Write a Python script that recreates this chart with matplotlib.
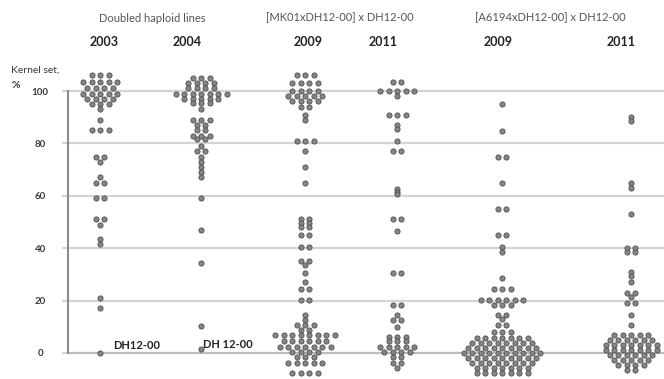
"""
Kernel set (%) of doubled haploid lines and crosses, shown as dot columns
"""

import numpy as np
import matplotlib
matplotlib.use('Agg')
import matplotlib.pyplot as plt

plt.rcParams['font.family'] = ['Lato', 'DejaVu Sans']

### values: kernel set levels and number of lines at each ###

dh2003_levels = [106, 103.5, 101, 99, 97, 95, 93, 89, 85, 75, 73, 67, 65, 59, 51, 49,
                 43.5, 41.5, 21, 17, 0]
dh2003_counts = [3, 5, 4, 5, 4, 3, 1, 1, 3, 2, 1, 1, 2, 2, 2, 1, 1, 1, 1, 1, 1]

dh2004_levels = [105, 103, 101, 99, 97, 95.5, 93, 89, 87, 85, 83, 81.5, 79, 77, 75, 73,
                 71, 69, 67, 59, 47, 34.5, 10.3, 1.5]
dh2004_counts = [3, 4, 4, 7, 5, 3, 1, 3, 2, 2, 3, 2, 1, 2, 1, 1, 1, 1, 1, 1, 1, 1, 1, 1]

mk2009_levels = [106, 103, 100, 98, 96, 94, 91, 89, 81, 77, 71, 65, 51, 49.5, 48, 45,
                 40.5, 35, 33.5, 30.5, 27, 24.5, 20.3, 14.5, 12.6, 10.7, 8.8, 6.9, 4.6,
                 2.3, 0.4, -1.5, -3.8, -7.6]
mk2009_counts = [3, 4, 4, 5, 4, 2, 1, 1, 3, 1, 1, 1, 2, 2, 2, 2, 2, 2, 1, 1, 1, 2, 2, 1,
                 1, 3, 2, 8, 6, 7, 4, 3, 5, 4]

mk2011_levels = [103.5, 100, 98, 91, 87, 85.5, 81, 77, 62.5, 61.5, 60.5, 51, 46.5, 30.5,
                 18.5, 14.5, 12.6, 10, 6, 4.4, 2.3, 0.4, -1.5, -3.8, -5.7]
mk2011_counts = [2, 5, 1, 3, 1, 1, 1, 2, 1, 1, 1, 2, 1, 2, 2, 1, 2, 1, 3, 3, 5, 4, 2, 2, 1]

a6194_2009_levels = [95, 84.7, 75, 64.7, 55, 45, 40.6, 38.7, 28.7, 24.5, 20.3, 18.4, 14.5,
                     12.8, 10.7, 8, 5.7, 3.8, 1.9, 0, -1.9, -3.8, -5.7, -7.6]
a6194_2009_counts = [1, 1, 2, 1, 2, 2, 1, 1, 1, 3, 6, 3, 2, 1, 2, 3, 7, 8, 9, 10, 9, 8, 7, 7]

a6194_2011_levels = [90, 88.5, 65, 63, 53, 40, 38.5, 31, 29.5, 27, 23, 21.5, 19.2, 14.5,
                     10.7, 6.9, 5, 3, 1.1, -0.8, -2.7, -4.6, -6.5]
a6194_2011_counts = [1, 1, 1, 1, 1, 2, 2, 1, 1, 1, 2, 1, 2, 1, 1, 5, 6, 7, 7, 6, 5, 4, 2]

years = ['2003', '2004', '2009', '2011', '2009', '2011']
groups = ['Doubled haploid lines', '[MK01xDH12-00] x DH12-00', '[A6194xDH12-00] x DH12-00']
yticks = [0, 20, 40, 60, 80, 100]
check_label = ['DH12-00', 'DH 12-00']

columns = [(dh2003_levels, dh2003_counts),
           (dh2004_levels, dh2004_counts),
           (mk2009_levels, mk2009_counts),
           (mk2011_levels, mk2011_counts),
           (a6194_2009_levels, a6194_2009_counts),
           (a6194_2011_levels, a6194_2011_counts)]

# layout (pixels of the 664x379 picture)
W, H = 664, 379
centres = [100, 201, 305, 397, 502, 631]
year_x = [104, 187, 308, 383, 498, 621]
group_x = [152, 340, 550]
STEP = 8.5                      # horizontal gap between dots in a row
Y0_PX, PX_PER_UNIT = 353, 2.62  # pixel row of 0 % and scale


def dot_row(levels, counts, centre, step=STEP):
    """
    Spread the lines sharing one level symmetrically around the column centre
    """
    xs, ys = [], []
    for v, n in zip(levels, counts):
        offs = (np.arange(n) - (n - 1) / 2.0) * step
        xs.extend(centre + offs)
        ys.extend([v] * n)
    return np.array(xs), np.array(ys)


def ftext(x, y, s, **kw):
    fig.text(x / W, 1 - y / H, s, **kw)


fig = plt.figure(figsize=(W / 100, H / 100), dpi=100)
left = 68
ax = fig.add_axes([left / W, 0, 1 - left / W, 1])
ax.set_xlim(left, W)
ax.set_ylim((Y0_PX - H) / PX_PER_UNIT, Y0_PX / PX_PER_UNIT)

# grid and axis
for v in yticks:
    ax.axhline(v, color='#bcbcbc' if v == 0 else '#d4d4d4', lw=1.6, zorder=1)
for s in ['top', 'right', 'bottom']:
    ax.spines[s].set_visible(False)
ax.spines['left'].set_bounds(0, 100)
ax.spines['left'].set_color('#8c8c8c')
ax.spines['left'].set_linewidth(1.5)
ax.set_xticks([])
ax.set_yticks(yticks)
ax.set_yticklabels([str(v) for v in yticks])
ax.tick_params(axis='y', length=4.5, width=1.6, color='#d4d4d4', pad=15.5,
               labelsize=7, labelcolor='#3a3a3a')
for lab in ax.get_yticklabels():
    lab.set_horizontalalignment('center')
    lab.set_fontweight('bold')

# dots
for (levels, counts), c in zip(columns, centres):
    xs, ys = dot_row(levels, counts, c)
    ax.scatter(xs, ys, s=14, facecolor='#858585', edgecolor='#505050',
               linewidth=0.6, zorder=3, clip_on=False)

# check line labels
ax.text(113, 0.6, check_label[0], fontsize=8, fontweight='bold', color='#222222',
        va='bottom', ha='left', zorder=4)
ax.text(203, 1.3, check_label[1], fontsize=8, fontweight='bold', color='#222222',
        va='bottom', ha='left', zorder=4)

# headers
for g, x in zip(groups, group_x):
    ftext(x, 18, g, fontsize=8, color='#555555', ha='center', va='center')
for yr, x in zip(years, year_x):
    ftext(x, 42, yr, fontsize=9, fontweight='bold', color='#222222',
          ha='center', va='center')
ftext(11, 70, 'Kernel set,', fontsize=7.5, color='#3a3a3a', ha='left', va='center')
ftext(12, 85, '%', fontsize=7.5, fontweight='bold', color='#3a3a3a', ha='left', va='center')

fig.savefig('out.png', dpi=100)
